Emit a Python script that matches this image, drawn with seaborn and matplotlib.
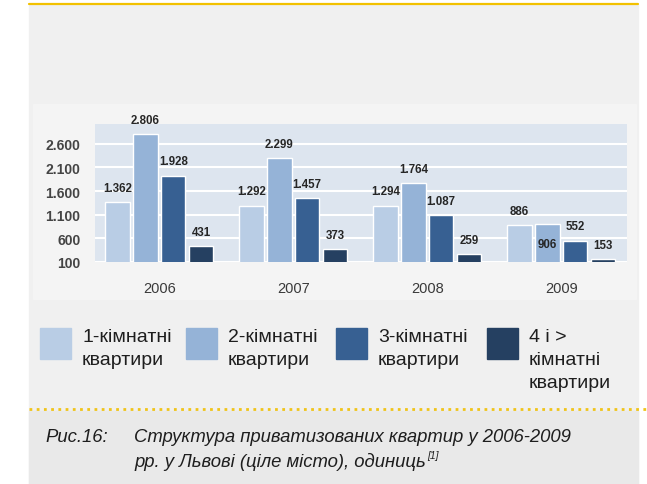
import numpy as np
import pandas as pd
import seaborn as sns
import matplotlib.pyplot as plt
from matplotlib.patches import Rectangle
from matplotlib.lines import Line2D

years = ['2006', '2007', '2008', '2009']
room_types = ['1-кімнатні\nквартири', '2-кімнатні\nквартири',
              '3-кімнатні\nквартири', '4 і >\nкімнатні\nквартири']
one_room = [1362, 1292, 1294, 886]
two_room = [2806, 2299, 1764, 906]
three_room = [1928, 1457, 1087, 552]
four_room = [431, 373, 259, 153]
colors = ['#b9cde5', '#95b3d7', '#376092', '#254061']
y_ticks = [100, 600, 1100, 1600, 2100, 2600]
caption_num = 'Рис.16:'
caption_1 = 'Структура приватизованих квартир у 2006-2009'
caption_2 = 'рр. у Львові (ціле місто), одиниць'

series = [one_room, two_room, three_room, four_room]
df = pd.DataFrame({
    'Рік': years * 4,
    'Тип': np.repeat(room_types, len(years)),
    'Кількість': one_room + two_room + three_room + four_room,
})

def fmt(v):
    return f'{v:,}'.replace(',', '.')

sns.set_style('white')
plt.rcParams['font.family'] = ['Liberation Sans', 'DejaVu Sans']

W, H = 647, 485
fig = plt.figure(figsize=(W / 100, H / 100), dpi=100, facecolor='white')

# page panel, chart box, top gold line, dotted separator, caption band
fig.patches.append(Rectangle((29 / W, 0), (638 - 29) / W, 1 - 5 / H,
                             transform=fig.transFigure, color='#f0f0f0', zorder=-2))
fig.patches.append(Rectangle((33 / W, 1 - 300 / H), (636 - 33) / W, 195 / H,
                             transform=fig.transFigure, color='#f4f4f4', zorder=-1))
fig.patches.append(Rectangle((29 / W, 0), (638 - 29) / W, 1 - 412 / H,
                             transform=fig.transFigure, color='#e9e9e9', zorder=-1))
fig.lines.append(Line2D([29 / W, 638 / W], [1 - 5 / H, 1 - 5 / H], transform=fig.transFigure,
                        color='#f2c100', lw=1.6))
fig.lines.append(Line2D([29 / W, 647 / W], [1 - 410 / H, 1 - 410 / H], transform=fig.transFigure,
                        color='#f0c419', lw=2, linestyle=(0, (1, 1.6))))

ax = fig.add_axes([95 / W, 1 - 263 / H, 532 / W, 138 / H])
ax.set_zorder(5)
ax.set_facecolor('#dde5ef')
sns.barplot(data=df, x='Рік', y='Кількість', hue='Тип', palette=colors,
            saturation=1, width=0.83, gap=0.12, legend=False, ax=ax)

ax.set_ylim(100, 3020)
ax.set_xlim(-0.48, 3.49)
ax.set_yticks(y_ticks)
ax.set_yticklabels([fmt(v) for v in y_ticks])
ax.grid(axis='y', color='white', lw=1.5)
ax.set_axisbelow(True)
for s in ax.spines.values():
    s.set_visible(False)
ax.tick_params(axis='y', length=0, pad=10.5, labelsize=10, labelcolor='#444444')
ax.tick_params(axis='x', length=0, pad=14, labelsize=10.5, labelcolor='#3a3a3a')
for t in ax.get_yticklabels():
    t.set_fontweight('bold')
ax.set_xlabel('')
ax.set_ylabel('')

for cont, vals in zip(ax.containers, series):
    anns = ax.bar_label(cont, labels=[fmt(v) for v in vals], padding=6,
                        fontsize=8.3, fontweight='bold', color='#262626')
    if vals is two_room:
        anns[3].xyann = (0, -19)

# legend
lx = [40, 186, 336, 487]
for i, (x, lab) in enumerate(zip(lx, room_types)):
    fig.patches.append(Rectangle((x / W, 1 - 360 / H), 31 / W, 31 / H,
                                 transform=fig.transFigure, color=colors[i], zorder=1))
    fig.text((x + 42) / W, 1 - 329 / H, lab, ha='left', va='top', fontsize=14,
             color='#1e1e1e', linespacing=1.45)

fig.text(45 / W, 1 - 438 / H, caption_num, fontsize=13.3, style='italic', va='center', color='#1e1e1e')
fig.text(134 / W, 1 - 438 / H, caption_1, fontsize=13.3, style='italic', va='center', color='#1e1e1e')
t2 = fig.text(134 / W, 1 - 462 / H, caption_2, fontsize=13.3, style='italic', va='center', color='#1e1e1e')
r = fig.canvas.get_renderer()
bb = t2.get_window_extent(renderer=r)
fig.text(bb.x1 / W + 1 / W, 1 - 456 / H, '[1]', fontsize=7.5, style='italic', va='center', color='#1e1e1e')

fig.savefig('out.png', dpi=100, facecolor='white')
